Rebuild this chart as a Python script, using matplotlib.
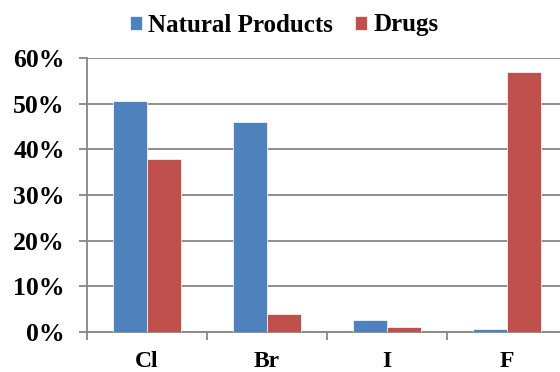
import numpy as np
import matplotlib
matplotlib.use("Agg")
import matplotlib.pyplot as plt
from matplotlib.ticker import FixedLocator, NullFormatter

# Data
categories = ["Cl", "Br", "I", "F"]
natural_products = [50.6, 46.0, 2.6, 0.6]
drugs = [37.9, 3.9, 1.1, 56.9]
y_ticks = [0, 10, 20, 30, 40, 50, 60]

plt.rcParams['font.family'] = ['Liberation Serif', 'DejaVu Serif']
plt.rcParams['font.weight'] = 'bold'

W, H = 560, 372
fig = plt.figure(figsize=(W / 100, H / 100), dpi=100)
ax = fig.add_axes([87 / W, (H - 332) / H, (567 - 87) / W, (332 - 58) / H])

grid_color = '#868686'
x = np.arange(len(categories))
bw = 0.283
ax.bar(x - bw / 2, natural_products, bw, color='#4F81BD', edgecolor='white',
       linewidth=0.5, label='Natural Products', zorder=3)
ax.bar(x + bw / 2, drugs, bw, color='#C0504D', edgecolor='white',
       linewidth=0.5, label='Drugs', zorder=3)

ax.set_xlim(-0.5, len(categories) - 0.5)
ax.set_ylim(0, 60)
ax.set_yticks(y_ticks)
ax.set_yticklabels([f"{v}%" for v in y_ticks], fontsize=18.5, fontweight='bold')
ax.yaxis.grid(True, color=grid_color, linewidth=1.3, zorder=0)

# category labels in the middle, tick marks between categories
ax.xaxis.set_major_locator(FixedLocator(np.arange(-0.5, len(categories), 1.0)))
ax.xaxis.set_major_formatter(NullFormatter())
ax.xaxis.set_minor_locator(FixedLocator(x))
ax.set_xticklabels(categories, minor=True, fontsize=17, fontweight='bold')
ax.tick_params(axis='x', which='minor', length=0, pad=13.5)
ax.tick_params(axis='x', which='major', length=6, width=1.3, color=grid_color)
ax.tick_params(axis='y', length=6, width=1.3, color=grid_color, pad=10)

for side in ['top', 'right']:
    ax.spines[side].set_visible(False)
for side in ['left', 'bottom']:
    ax.spines[side].set_color(grid_color)
    ax.spines[side].set_linewidth(1.3)

fig.legend(loc='center', bbox_to_anchor=(284 / W, 1 - 25 / H), ncol=2,
           frameon=False, prop={'size': 18, 'weight': 'bold'},
           handlelength=0.48, handleheight=0.48, handletextpad=0.25,
           columnspacing=0.9)

fig.savefig("out.png", dpi=100)
